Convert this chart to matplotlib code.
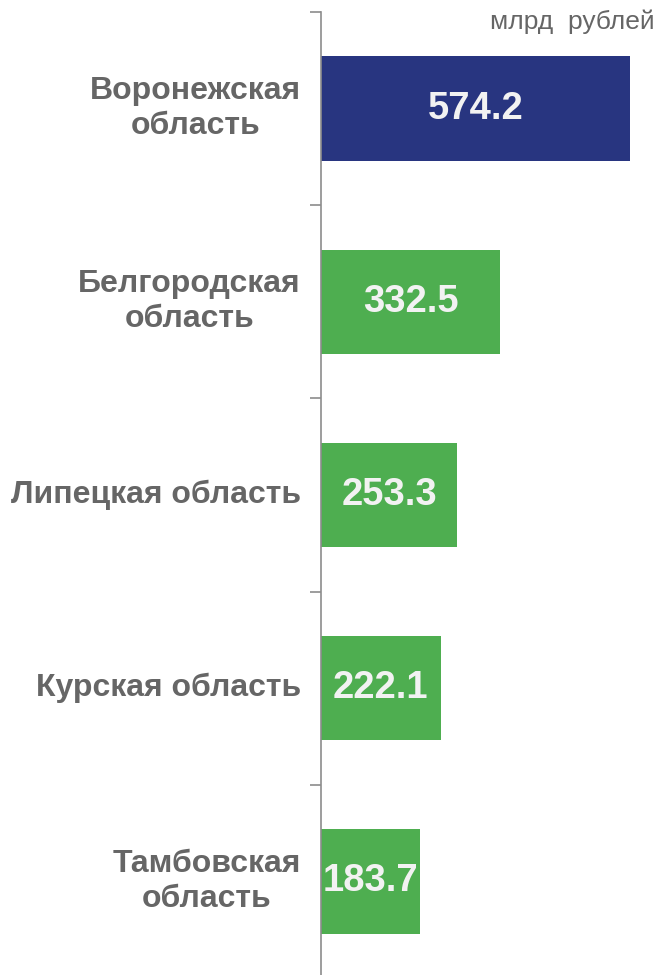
import matplotlib.pyplot as plt
import numpy as np

plt.rcParams['font.family'] = ['Liberation Sans', 'DejaVu Sans']

regions = ['Воронежская\nобласть', 'Белгородская\nобласть', 'Липецкая область',
           'Курская область', 'Тамбовская\nобласть']
values = [574.2, 332.5, 253.3, 222.1, 183.7]
colors = ['#283580', '#4EAE50', '#4EAE50', '#4EAE50', '#4EAE50']

fig = plt.figure(figsize=(6.61, 9.75), dpi=100)
# axes top at y=12 px, category step ~193 px
ax = fig.add_axes([321 / 661, -3 / 975, 340 / 661, 966 / 975])

y = np.arange(len(values))
ax.barh(y, values, height=0.54, color=colors)
ax.set_ylim(len(values) - 0.5, -0.5)
scale = 309 / 574.2
ax.set_xlim(0, 340 / scale)

for i, v in enumerate(values):
    ax.text(v / 2, i, f'{v:.1f}', ha='center', va='center', color='#F2F2F2',
            fontsize=27.5, fontweight='bold')
    ax.text(-20 / scale, i, regions[i], ha='right', va='center', multialignment='center',
            color='#666666', fontsize=23, fontweight='bold', linespacing=1.22)

ax.set_yticks(np.arange(len(values) + 1) - 0.5)
ax.set_yticklabels([])
ax.tick_params(axis='y', length=8, color='#8c8c8c', width=1.2)
ax.set_xticks([])
for s in ['top', 'right', 'bottom']:
    ax.spines[s].set_visible(False)
ax.spines['left'].set_color('#8c8c8c')
ax.spines['left'].set_linewidth(1.2)

fig.text(655 / 661, 1 - 22 / 975, 'млрд  рублей', ha='right', va='center',
         color='#666666', fontsize=19)

fig.savefig('out.png', dpi=100)
